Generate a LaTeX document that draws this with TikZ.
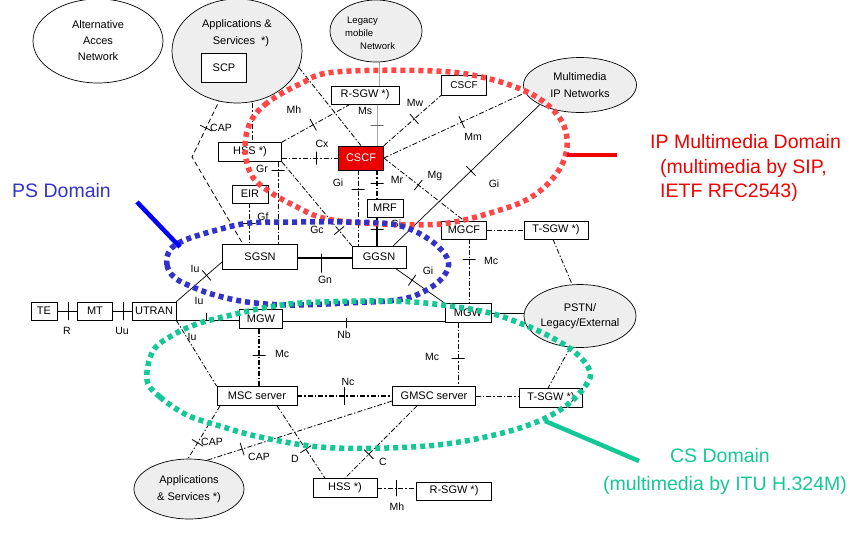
\documentclass[tikz,border=0pt]{standalone}
\usepackage{fontspec}
\setmainfont{Liberation Sans}
\usetikzlibrary{shapes.geometric,calc}
\pgfdeclarelayer{bg}
\pgfsetlayers{bg,main}

\definecolor{imsred}{RGB}{255,70,70}
\definecolor{imstext}{RGB}{240,0,0}
\definecolor{psblue}{RGB}{50,50,200}
\definecolor{pspointer}{RGB}{0,0,255}
\definecolor{csgreen}{RGB}{20,200,150}
\definecolor{cloudgray}{RGB}{238,238,238}
\definecolor{cscfred}{RGB}{235,0,0}

\begin{document}
\begin{tikzpicture}[x=1pt,y=-1pt,
  box/.style={draw,fill=white,inner sep=0pt,line width=0.7pt,font=\fontsize{11}{12}\selectfont},
  netcloud/.style={draw,ellipse,fill=cloudgray,inner sep=0pt,line width=0.7pt,align=center,font=\fontsize{11}{16}\selectfont},
  lbl/.style={font=\fontsize{10.5}{12}\selectfont,inner sep=0pt},
  dd/.style={line width=0.8pt,dash pattern=on 5pt off 2pt on 1.5pt off 2pt},
  dsh/.style={line width=0.8pt,dash pattern=on 5pt off 3pt},
  sol/.style={line width=0.7pt},
  grayline/.style={line width=0.7pt,gray!70},
  itick/.style={sloped,draw=black,solid,line width=0.8pt,inner sep=0pt,minimum width=0pt,minimum height=13pt,fill=none},
  zone/.style={line width=5.5pt,dash pattern=on 5pt off 4pt},
  caption/.style={font=\fontsize{19.5}{24}\selectfont,inner sep=0pt,anchor=base west},
]
\useasboundingbox (0,0) rectangle (850,541);

% ---------- networks (ellipses) ----------
\node[netcloud,fill=white,minimum width=130pt,minimum height=84pt] (alt) at (98,41) {Alternative\\Acces\\Network};
\node[netcloud,minimum width=130pt,minimum height=104pt] (apps) at (237,51) {};
\node[align=center,inner sep=0pt,font=\fontsize{11}{17}\selectfont] (appstext) at (237,33.5) {Applications \&\\\hspace*{8pt}Services~~*)};
\node[netcloud,minimum width=92pt,minimum height=62pt] (legacy) at (376,31) {};
\node[anchor=west,align=left,inner sep=0pt,font=\fontsize{9.5}{13}\selectfont] (legacytext) at (345,33) {\hspace*{2pt}Legacy\\mobile\\\hspace*{15pt}Network};
\node[netcloud,minimum width=113pt,minimum height=55pt,font=\fontsize{11}{17}\selectfont] (mmip) at (580,85) {Multimedia\\IP Networks};
\node[netcloud,minimum width=112pt,minimum height=63pt,font=\fontsize{11}{15}\selectfont] (pstn) at (580,316) {PSTN/\\Legacy/External};
\node[netcloud,minimum width=110pt,minimum height=60pt,font=\fontsize{11}{17}\selectfont] (apps2) at (189,489) {Applications\\\& Services *)};

% ---------- functional entities ----------
\node[box,minimum width=45pt,minimum height=29pt] (scp) at (224,68) {SCP};
\node[box,minimum width=68pt,minimum height=18pt] (rsgw) at (365,95) {R-SGW *)};
\node[box,minimum width=45pt,minimum height=20pt,font=\fontsize{10}{12}\selectfont] (cscfw) at (464,85) {CSCF};
\node[box,fill=cscfred,text=white,minimum width=45pt,minimum height=24pt] (cscf) at (361,158) {CSCF};
\node[box,minimum width=63pt,minimum height=19pt] (hss) at (250,152) {HSS *)};
\node[box,minimum width=36pt,minimum height=18pt] (eir) at (250,194) {EIR};
\node[box,minimum width=36pt,minimum height=18pt] (mrf) at (385,208) {MRF};
\node[box,minimum width=75pt,minimum height=25pt] (sgsn) at (260,257) {SGSN};
\node[box,minimum width=54pt,minimum height=22pt] (ggsn) at (379,257) {GGSN};
\node[box,minimum width=45pt,minimum height=18pt] (mgcf) at (464,230) {MGCF};
\node[box,minimum width=64pt,minimum height=18pt] (tsgw1) at (556,230) {T-SGW *)};
\node[box,minimum width=46pt,minimum height=19pt] (mgw2) at (468,313) {MGW};
\node[box,minimum width=26pt,minimum height=18pt] (te) at (44,311) {TE};
\node[box,minimum width=35pt,minimum height=18pt] (mt) at (95,311) {MT};
\node[box,minimum width=44pt,minimum height=18pt] (utran) at (154,311) {UTRAN};
\node[box,minimum width=43pt,minimum height=19pt] (mgw1) at (261,319) {MGW};
\node[box,minimum width=80pt,minimum height=19pt] (msc) at (257,396) {MSC server};
\node[box,minimum width=83pt,minimum height=19pt] (gmsc) at (434,396) {GMSC server};
\node[box,minimum width=63pt,minimum height=19pt] (tsgw2) at (551,398) {T-SGW *)};
\node[box,minimum width=64pt,minimum height=19pt] (hss2) at (345,488) {HSS *)};
\node[box,minimum width=75pt,minimum height=18pt] (rsgw2) at (454,491) {R-SGW *)};

\coordinate (capbend) at (192,157);

% ---------- reference points (interfaces) ----------
\begin{pgfonlayer}{bg}
\draw[dsh] (scp.south -| 228,0) -- node[itick,pos=0.61]{} (capbend) -- (sgsn.north -| 243,0);
\draw[dd] (apps.south -| 252,0) -- (hss.north -| 252,0);
\draw[dd] (apps.-15) -- (cscf.north);
\draw[dd] (hss.north east) -- node[itick,pos=0.46]{} (rsgw.south -| 350,0);
\draw[dd] (hss.east |- cscf.west) -- node[itick,pos=0.61]{} (cscf.west);
\draw[grayline] (legacy.south -| 379,0) -- (rsgw.north -| 379,0);
\draw[grayline] (rsgw.south -| 377,0) -- node[itick,pos=0.52,draw=gray!80!black]{} (cscf.north -| 377,0);
\draw[dd] (cscf.north east) -- node[itick,pos=0.53]{} (cscfw.south west);
\draw[dd] (cscf.east) -- node[itick,pos=0.55]{} (mmip.188);
\draw[dd] (cscf.east) -- node[itick,pos=0.43]{} (mgcf.north);
\draw[sol] (mmip.south west) -- node[itick,pos=0.47]{} ([xshift=-13pt]ggsn.north east);
\draw[dd,line width=1.1pt] (cscf.south -| 377,0) -- node[itick,pos=0.46]{} (mrf.north -| 377,0);
\draw[dd] (cscf.south -| 358,0) -- node[itick,pos=0.25]{} (ggsn.north -| 358,0);
\draw[sol,line width=1.2pt] (mrf.south -| 377,0) -- node[itick,pos=0.41]{} (ggsn.north -| 377,0);
\draw[dd] (hss.south -| 278,0) -- node[itick,pos=0.1]{} (sgsn.north -| 278,0);
\draw[dd] (hss.south east) -- node[itick,pos=0.82]{} (ggsn.north west);
\draw[dd] (eir.south -| 249,0) -- node[itick,pos=0.48]{} (sgsn.north -| 249,0);
\draw[sol,line width=1.5pt] (sgsn.east |- 0,258) -- node[itick,pos=0.43,minimum height=19pt,yshift=-5pt]{} (ggsn.west |- 0,258);
\draw[sol] ([xshift=-11pt]ggsn.south east) -- node[itick,pos=0.34]{} (mgw2.north west);
\draw[sol] (utran.north east) -- node[itick,pos=0.66]{} ([yshift=8pt]sgsn.south west);
\draw[sol] (utran.south east) -- node[itick,pos=0.48,minimum height=8pt,yshift=3.5pt]{} (mgw1.west |- utran.south east);
\draw[dd] (utran.south east) -- (msc.north west);
\draw[sol] (te) -- node[itick,pos=0.55,minimum height=18pt]{} (mt);
\draw[sol] (mt) -- node[itick,pos=0.55,minimum height=18pt]{} (utran);
\draw[sol] (mgw1.east |- 0,321) -- node[itick,pos=0.39,minimum height=10pt,yshift=-2pt]{} (mgw2.west |- 0,321);
\draw[sol] (mgw2.east) -- (pstn.west |- mgw2.east);
\draw[dd,line width=1.1pt] (mgw1.south -| 259,0) -- node[itick,pos=0.47]{} (msc.north -| 259,0);
\draw[dd] (mgw2.south -| 458,0) -- node[itick,pos=0.56]{} (gmsc.north -| 458,0);
\draw[dd] (mgcf.south -| 469,0) -- node[itick,pos=0.32]{} (mgw2.north -| 469,0);
\draw[dd] (mgcf) -- (tsgw1);
\draw[dd] (tsgw1.south -| 553,0) -- (pstn.north -| 572,0);
\draw[dd] (pstn.south -| 570,0) -- (tsgw2.north -| 548,0);
\draw[dd,line width=1.1pt] (msc) -- node[itick,pos=0.5,minimum height=18pt]{} (gmsc);
\draw[dd] (gmsc) -- (tsgw2.west |- gmsc.east);
\draw[dd] (msc.south -| 277,0) -- node[itick,pos=0.6]{} (hss2.north -| 325,0);
\draw[dd] (gmsc.south -| 417,0) -- node[itick,pos=0.67]{} (hss2.north -| 345,0);
\draw[dd] (msc.south -| 220,0) -- node[itick,pos=0.7]{} (apps2.north -| 188,0);
\draw[dd] (gmsc.west |- 0,401) -- node[itick,pos=0.81]{} (apps2.58);
\draw[dd] (hss2) -- node[itick,pos=0.5,minimum height=16pt,line width=1.2pt]{} (rsgw2.west |- hss2.east);
\end{pgfonlayer}

% ---------- interface names ----------
\node[lbl] (lCAPa) at (221,128) {CAP};
\node[lbl] (lMh) at (294,110) {Mh};
\node[lbl] (lCx) at (322,144) {Cx};
\node[lbl] (lMs) at (365,111) {Ms};
\node[lbl] (lMw) at (415,103) {Mw};
\node[lbl] (lMm) at (473,137) {Mm};
\node[lbl] (lMg) at (435,176) {Mg};
\node[lbl] (lGia) at (494,184) {Gi};
\node[lbl] (lMr) at (397,180) {Mr};
\node[lbl] (lGib) at (338,183) {Gi};
\node[lbl] (lGr) at (262,169) {Gr};
\node[lbl] (lGf) at (263,217) {Gf};
\node[lbl] (lGc) at (317,230) {Gc};
\node[lbl] (lGic) at (396,224) {Gi};
\node[lbl] (lGn) at (325,280) {Gn};
\node[lbl] (lGid) at (428,271) {Gi};
\node[lbl] (lIua) at (195,269) {Iu};
\node[lbl] (lIub) at (199,301) {Iu};
\node[lbl] (lIuc) at (192,337) {Iu};
\node[lbl] (lR) at (67,331) {R};
\node[lbl] (lUu) at (122,331) {Uu};
\node[lbl] (lNb) at (344,335) {Nb};
\node[lbl] (lMca) at (282,354) {Mc};
\node[lbl] (lMcb) at (432,357) {Mc};
\node[lbl] (lMcc) at (491,261) {Mc};
\node[lbl] (lNc) at (348,382) {Nc};
\node[lbl] (lD) at (295,459) {D};
\node[lbl] (lC) at (383,462) {C};
\node[lbl] (lCAPb) at (212,442) {CAP};
\node[lbl] (lCAPc) at (259,457) {CAP};
\node[lbl] (lMhb) at (397,507) {Mh};

% ---------- domain outlines ----------
\draw[zone,imsred] plot[smooth cycle,tension=0.6] coordinates {
  (300,84) (267,103) (250,123) (245,150) (252,176) (270,192) (297,207) (323,218)
  (363,223) (440,224) (500,210) (533,196) (557,173) (567,147) (561,120) (535,96)
  (490,79) (435,71) (335,72)};
\draw[zone,psblue] plot[smooth cycle,tension=0.6] coordinates {
  (170,250) (167,265) (175,278) (195,288) (215,295) (247,302) (290,305) (347,303)
  (397,300) (423,292) (443,277) (448,260) (430,240) (397,225) (347,222) (297,222)
  (250,223) (217,230) (185,240)};
\draw[zone,csgreen] plot[smooth cycle,tension=0.6] coordinates {
  (147,380) (160,397) (187,415) (220,426) (260,437) (320,447) (387,448) (453,443)
  (520,428) (563,408) (588,382) (588,367) (572,350) (545,334) (517,322) (490,313)
  (457,307) (413,302) (363,301) (300,303) (263,308) (240,313) (200,323) (173,335)
  (153,351)};

% ---------- domain captions and pointers ----------
\coordinate (imsA) at (567,155);
\coordinate (imsB) at (617,155);
\draw[imstext,line width=4pt] (imsA) -- (imsB);
\node[caption,text=imstext] (imsT1) at (650,148) {IP Multimedia Domain};
\node[caption,text=imstext] (imsT2) at (660,173) {(multimedia by SIP,};
\node[caption,text=imstext] (imsT3) at (660,197) {IETF RFC2543)};

\coordinate (psA) at (137,202);
\coordinate (psB) at (180,247);
\draw[pspointer,line width=4.5pt] (psA) -- (psB);
\node[caption,text=psblue] (psT) at (12,197) {PS Domain};

\coordinate (csA) at (545,421);
\coordinate (csB) at (639,461);
\draw[csgreen,line width=4.5pt] (csA) -- (csB);
\node[caption,text=csgreen,anchor=base] (csT1) at (720,462) {CS Domain};
\node[caption,text=csgreen,anchor=base] (csT2) at (725,490) {(multimedia by ITU H.324M)};
\end{tikzpicture}
\end{document}
